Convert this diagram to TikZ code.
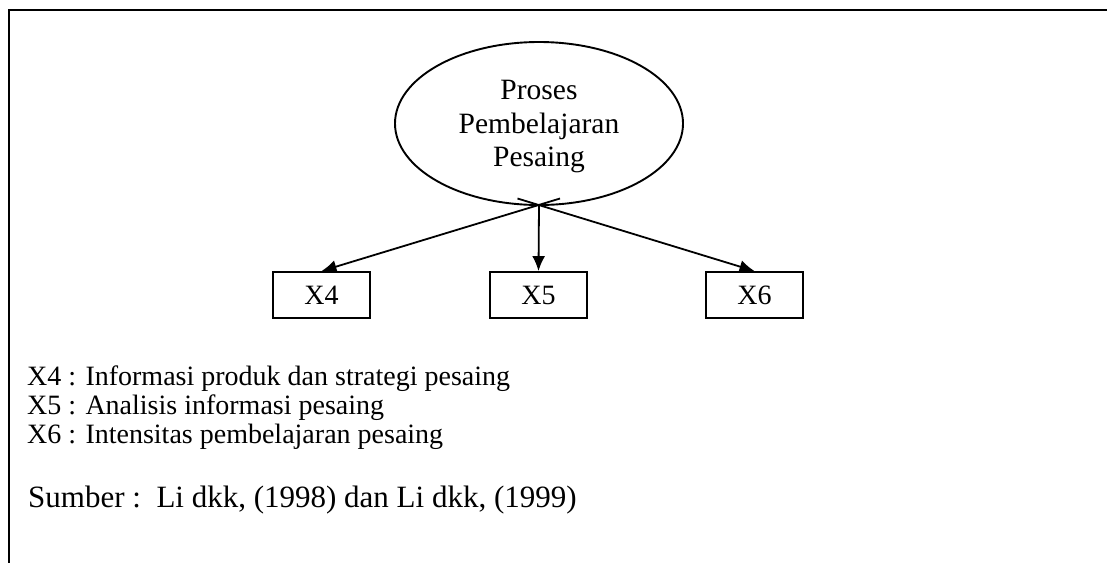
\documentclass[tikz,border=0pt]{standalone}
\usepackage{fontspec}
\setmainfont{Liberation Serif}
\usetikzlibrary{shapes.geometric,arrows.meta}

\tikzset{
  frameline/.style={line width=2.2pt},
  latent/.style={ellipse, draw, line width=1.9pt, minimum width=288pt, minimum height=163pt, inner sep=0pt},
  latenttext/.style={align=center, font=\fontsize{29.5}{33.5}\selectfont, inner sep=0pt},
  indicator/.style={draw, line width=1.9pt, minimum width=97pt, minimum height=46pt, inner sep=0pt,
    font=\fontsize{28}{30}\selectfont},
  loading/.style={line width=1.8pt, -{Latex[length=15pt,width=13pt]}},
  legendtext/.style={anchor=base west, inner sep=0pt, font=\fontsize{28}{30}\selectfont},
  sourcetext/.style={anchor=base west, inner sep=0pt, font=\fontsize{31}{33}\selectfont}
}

\begin{document}
\begin{tikzpicture}[x=1pt, y=-1pt]
  \useasboundingbox (0,0) rectangle (1107,563);

  % open frame: top rule and left rule
  \coordinate (frameTL) at (9,10);
  \coordinate (frameTR) at (1107,10);
  \coordinate (frameBL) at (9,563);
  \draw[frameline] (frameTR) -- (frameTL) -- (frameBL);

  % latent construct
  \node[latent] (proc) at (539,123.5) {};
  \node[latenttext] (proclabel) at (539,127) {Proses\\Pembelajaran\\Pesaing};

  % indicators
  \node[indicator] (x4) at (321.5,295) {X4};
  \node[indicator] (x5) at (538.5,295) {X5};
  \node[indicator] (x6) at (754.5,295) {X6};

  % loadings meet just under the ellipse and cross there
  \coordinate (hub)  at (539,205);
  \coordinate (hubL) at (560,198.5);
  \coordinate (hubR) at (517.5,198.5);
  \draw[loading] (hubL) -- (x4.north);
  \draw[loading] (hub)  -- (x5.north);
  \draw[loading] (hubR) -- (x6.north);

  % legend
  \node[legendtext] (leg4) at (27,385) {X4 : Informasi produk dan strategi pesaing};
  \node[legendtext] (leg5) at (27,414) {X5 : Analisis informasi pesaing};
  \node[legendtext] (leg6) at (27,443) {X6 : Intensitas pembelajaran pesaing};

  \node[sourcetext] (src) at (28,507) {Sumber :\ \ Li dkk, (1998) dan Li dkk, (1999)};
\end{tikzpicture}
\end{document}
